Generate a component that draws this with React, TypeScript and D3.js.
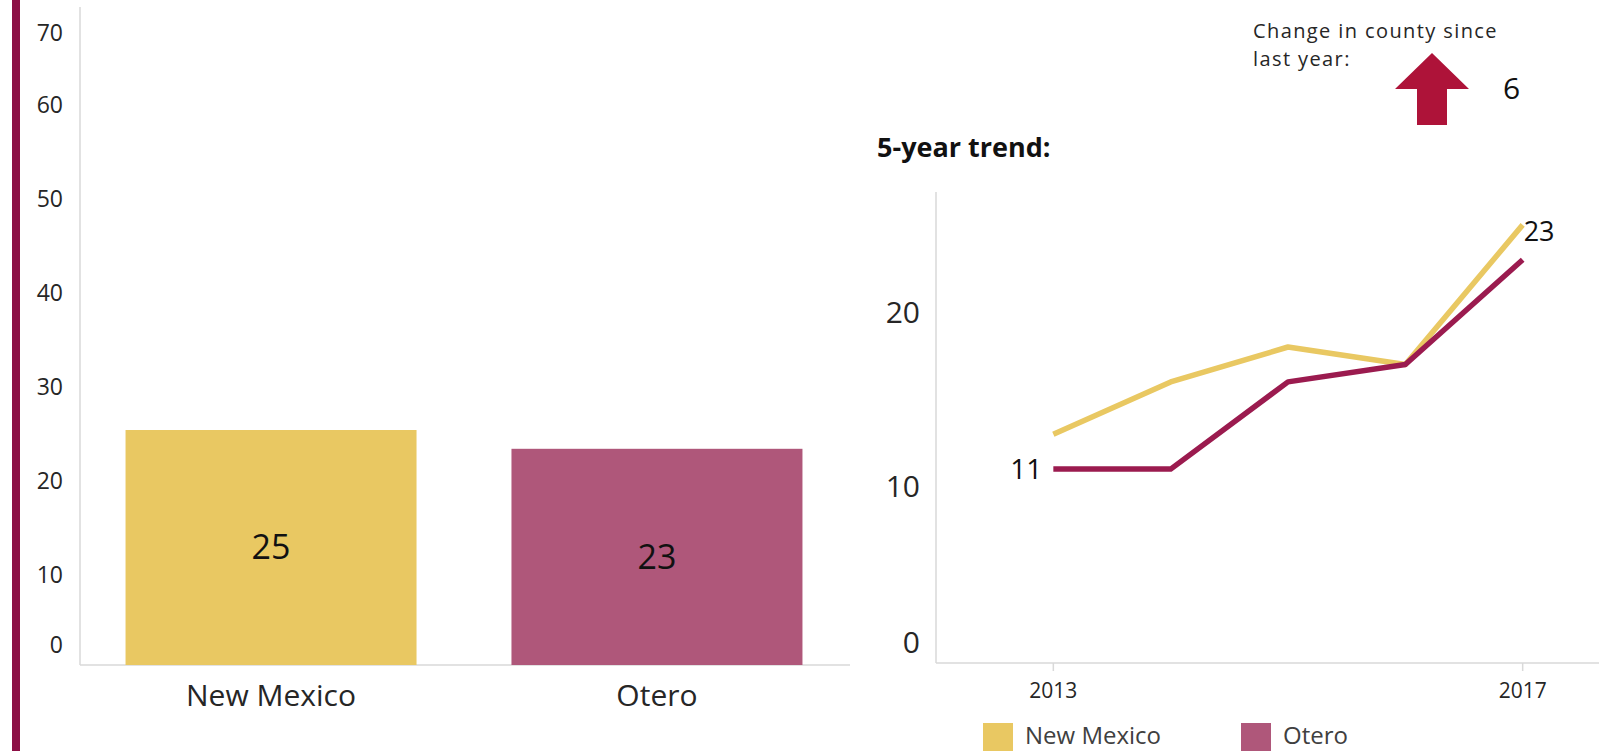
import React from "react";
import * as d3 from "d3";

const barCategories = ["New Mexico", "Otero"];
const barValues = [25, 23];
const barColors = ["#E9C862", "#AF577A"];
const barTicks = [0, 10, 20, 30, 40, 50, 60, 70];

const years = [2013, 2014, 2015, 2016, 2017];
const nmTrend = [13, 16, 18, 17, 25];
const oteroTrend = [11, 11, 16, 17, 23];
const trendTicks = [0, 10, 20];
const trendYearLabels = [2013, 2017];
const lineColors = ["#E9C862", "#9B1B4F"];
const legendNames = ["New Mexico", "Otero"];
const legendColors = ["#E9C862", "#AF577A"];

const changeValue = 6;

const W = 1599;
const H = 751;
const FONT = "'Open Sans', sans-serif";

export default function App() {
  // Left bar chart
  const bx = d3
    .scaleBand<string>()
    .domain(barCategories)
    .range([80, 848])
    .paddingInner(0.246)
    .paddingOuter(0.118);
  const by = d3.scaleLinear().domain([0, 70]).range([665, 7]);

  // Right line chart
  const lx = d3
    .scalePoint<number>()
    .domain(years)
    .range([936, 1640])
    .padding(1);
  const ly = d3.scaleLinear().domain([0, 27]).range([661, 190]);
  const line = d3
    .line<number>()
    .x((_, i) => lx(years[i]) as number)
    .y((d) => ly(d));

  const arrowX = 1432;
  const arrow = d3.path();
  arrow.moveTo(arrowX, 53);
  arrow.lineTo(arrowX + 37, 89);
  arrow.lineTo(arrowX + 15, 89);
  arrow.lineTo(arrowX + 15, 125);
  arrow.lineTo(arrowX - 15, 125);
  arrow.lineTo(arrowX - 15, 89);
  arrow.lineTo(arrowX - 37, 89);
  arrow.closePath();

  const axisColor = "#D9D9D9";
  const textColor = "#262626";

  return (
    <svg
      width={W}
      height={H}
      style={{ position: "absolute", left: 0, top: 0, background: "#fff" }}
      fontFamily={FONT}
    >
      {/* left accent bar */}
      <rect x={12} y={0} width={8} height={H} fill="#8C0F45" />

      {/* Left chart axes */}
      <line x1={80} x2={80} y1={by(70)} y2={by(0)} stroke={axisColor} strokeWidth={1.5} />
      <line x1={80} x2={850} y1={by(0)} y2={by(0)} stroke={axisColor} strokeWidth={1.5} />
      {barTicks.map((t) => {
        const y = Math.min(Math.max(by(t) + 4, by(70) + 26), by(0) - 20);
        return (
          <text
            key={t}
            x={63}
            y={y}
            dy="0.35em"
            textAnchor="end"
            fontSize={23}
            fill={textColor}
          >
            {t}
          </text>
        );
      })}
      {barCategories.map((c, i) => (
        <g key={c}>
          <rect
            x={bx(c)}
            y={by(barValues[i])}
            width={bx.bandwidth()}
            height={by(0) - by(barValues[i])}
            fill={barColors[i]}
          />
          <text
            x={(bx(c) as number) + bx.bandwidth() / 2}
            y={by(barValues[i] / 2)}
            dy="0.35em"
            textAnchor="middle"
            fontSize={34}
            fill="#111"
          >
            {barValues[i]}
          </text>
          <text
            x={(bx(c) as number) + bx.bandwidth() / 2}
            y={706}
            textAnchor="middle"
            fontSize={30}
            fill={textColor}
          >
            {c}
          </text>
        </g>
      ))}

      {/* Change annotation */}
      <text x={1253} y={38} fontSize={20} letterSpacing={1.4} fill={textColor}>
        Change in county since
      </text>
      <text x={1253} y={66} fontSize={20} letterSpacing={1.4} fill={textColor}>
        last year:
      </text>
      <path d={arrow.toString()} fill="#AE1339" />
      <text x={1503} y={88} dy="0.35em" fontSize={30} fill="#111">
        {changeValue}
      </text>

      {/* 5-year trend */}
      <text x={877} y={157} fontSize={27} fontWeight="bold" fill="#111">
        5-year trend:
      </text>
      <line x1={936} x2={936} y1={ly(27) + 2} y2={ly(0) + 2} stroke={axisColor} strokeWidth={1.5} />
      <line x1={936} x2={W} y1={ly(0) + 2} y2={ly(0) + 2} stroke={axisColor} strokeWidth={1.5} />
      {trendTicks.map((t) => {
        const y = Math.min(ly(t), ly(0) - 19);
        return (
          <text
            key={t}
            x={920}
            y={y}
            dy="0.35em"
            textAnchor="end"
            fontSize={30}
            fill={textColor}
          >
            {t}
          </text>
        );
      })}
      {trendYearLabels.map((yr) => (
        <g key={yr}>
          <line
            x1={lx(yr)}
            x2={lx(yr)}
            y1={ly(0) + 2}
            y2={ly(0) + 10}
            stroke={axisColor}
            strokeWidth={1.5}
          />
          <text
            x={lx(yr)}
            y={698}
            textAnchor="middle"
            fontSize={21}
            fill={textColor}
          >
            {yr}
          </text>
        </g>
      ))}
      <path
        d={line(nmTrend) as string}
        fill="none"
        stroke={lineColors[0]}
        strokeWidth={5.5}
        strokeLinejoin="round"
      />
      <path
        d={line(oteroTrend) as string}
        fill="none"
        stroke={lineColors[1]}
        strokeWidth={5.5}
        strokeLinejoin="round"
      />
      <text
        x={(lx(years[0]) as number) - 11}
        y={ly(oteroTrend[0])}
        dy="0.35em"
        textAnchor="end"
        fontSize={28}
        fill="#111"
      >
        {oteroTrend[0]}
      </text>
      <text
        x={(lx(years[4]) as number) + 1}
        y={ly(oteroTrend[4]) - 28}
        dy="0.35em"
        textAnchor="start"
        fontSize={27}
        fill="#111"
      >
        {oteroTrend[4]}
      </text>

      {/* legend */}
      {legendNames.map((n, i) => {
        const x0 = i === 0 ? 983 : 1241;
        return (
          <g key={n}>
            <rect x={x0} y={723} width={30} height={30} fill={legendColors[i]} />
            <text x={x0 + 42} y={744} fontSize={24} fill="#404040">
              {n}
            </text>
          </g>
        );
      })}
    </svg>
  );
}
